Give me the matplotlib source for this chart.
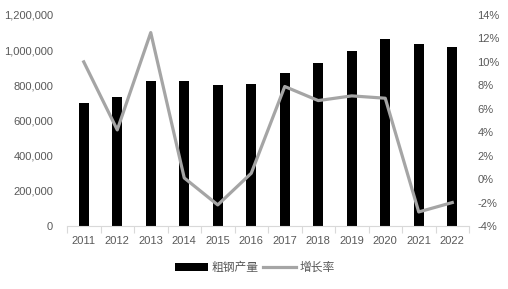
import matplotlib
matplotlib.use("Agg")
import matplotlib.pyplot as plt
from matplotlib.ticker import FuncFormatter, FixedLocator
import numpy as np

plt.rcParams['font.family'] = ['Liberation Sans', 'Noto Sans CJK SC', 'DejaVu Sans']

years = ['2011', '2012', '2013', '2014', '2015', '2016', '2017', '2018', '2019', '2020', '2021', '2022']
output = [702000, 731000, 822000, 823000, 804000, 808000, 871000, 928000, 996000, 1065000, 1035000, 1018000]
growth = [10.0, 4.2, 12.5, 0.1, -2.2, 0.5, 7.9, 6.7, 7.1, 6.9, -2.8, -2.0]

bar_label = '粗钢产量'
line_label = '增长率'

txt = '#595959'
W, H = 508, 289
fig = plt.figure(figsize=(W / 100, H / 100), dpi=100)
ax = fig.add_axes([67 / W, 1 - 226 / H, (469 - 67) / W, (226 - 15) / H])
ax2 = ax.twinx()

x = np.arange(len(years))
bars = ax.bar(x, output, width=0.3, color='black', label=bar_label, zorder=2)
line, = ax2.plot(x, growth, color='#A5A5A5', lw=2.3, label=line_label, zorder=3)

ax.set_xlim(-0.5, len(years) - 0.5)
ax.set_ylim(0, 1200000)
ax.set_yticks(np.arange(0, 1200001, 200000))
ax.yaxis.set_major_formatter(FuncFormatter(lambda v, p: f'{int(v):,}'))
ax2.set_ylim(-4, 14)
ax2.set_yticks(np.arange(-4, 15, 2))
ax2.yaxis.set_major_formatter(FuncFormatter(lambda v, p: f'{int(v)}%'))

ax.set_xticks(x)
ax.set_xticklabels(years)
ax.xaxis.set_minor_locator(FixedLocator(np.arange(-0.5, len(years), 1.0)))
ax.tick_params(axis='x', which='major', length=0, pad=7, labelsize=8, labelcolor=txt)
ax.tick_params(axis='x', which='minor', length=5, color='#D9D9D9', width=0.8)
ax.tick_params(axis='y', length=0, labelsize=8, labelcolor=txt, pad=10)
ax2.tick_params(axis='y', length=0, labelsize=8, labelcolor=txt, pad=6)

for a in (ax, ax2):
    for s in ('top', 'left', 'right'):
        a.spines[s].set_visible(False)
    a.spines['bottom'].set_color('#D9D9D9')
    a.spines['bottom'].set_linewidth(0.8)
ax2.spines['bottom'].set_visible(False)

leg = fig.legend([bars, line], [bar_label, line_label], loc='center', bbox_to_anchor=(255 / W, 1 - 268 / H),
                 ncol=2, frameon=False, fontsize=8.5, handlelength=2.8, handleheight=0.6,
                 columnspacing=0.4, handletextpad=0.3)
for t in leg.get_texts():
    t.set_color(txt)

fig.savefig('out.png', dpi=100)
